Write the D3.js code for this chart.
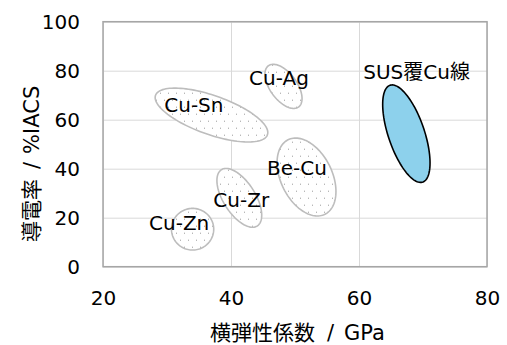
<!DOCTYPE html>
<html>
<head>
<meta charset="utf-8">
<script src="https://cdn.jsdelivr.net/npm/d3@7"></script>
<style>
  body { margin: 0; background: #fff; }
  text { font-family: "DejaVu Sans", "Noto Sans CJK JP", sans-serif; fill: #000; }
</style>
</head>
<body>
<svg id="chart"></svg>
<script>
// alloy regions: centre, half extents and tilt (correlation) in data units
const alloys = ["Cu-Sn", "Cu-Ag", "Cu-Zn", "Cu-Zr", "Be-Cu", "SUS覆Cu線"];
const modulusCenter = [36.95, 48.2, 34.0, 41.3, 51.8, 67.4];   // GPa
const conductCenter = [61.9, 73.6, 15.3, 28.1, 36.6, 54.3];    // %IACS
const modulusHalf = [8.8, 2.9, 3.3, 3.5, 4.6, 3.7];
const conductHalf = [11.0, 9.0, 8.5, 12.0, 15.9, 19.9];
const spreadCorr = [-0.65, -0.55, 0.0, -0.59, -0.37, -0.6];
const labelModulus = [34.2, 47.5, 31.9, 41.6, 50.3, 69.0];
const labelConduct = [66.0, 76.9, 17.7, 27.2, 40.2, 79.6];

const xTicks = [20, 40, 60, 80];
const yTicks = [0, 20, 40, 60, 80, 100];

var width = 507, height = 345;
var padding = {left: 103, right: 20, top: 21.7, bottom: 78.3};
var chartArea = {
  width: width - padding.left - padding.right,
  height: height - padding.top - padding.bottom
};

var svg = d3.select('#chart').attr('width', width).attr('height', height);

// sparse dot fill used by the alloy regions
var defs = svg.append('defs');
var pat = defs.append('pattern').attr('id', 'dots')
  .attr('patternUnits', 'userSpaceOnUse').attr('width', 8).attr('height', 14);
pat.append('rect').attr('width', 8).attr('height', 14).attr('fill', '#fff');
pat.append('rect').attr('x', 1).attr('y', 1).attr('width', 1).attr('height', 1).attr('fill', '#9a9a9a');
pat.append('rect').attr('x', 5).attr('y', 8).attr('width', 1).attr('height', 1).attr('fill', '#9a9a9a');

var xScale = d3.scaleLinear().domain([20, 80]).range([0, chartArea.width]);
var yScale = d3.scaleLinear().domain([0, 100]).range([chartArea.height, 0]);

var g = svg.append('g').attr('transform', 'translate(' + padding.left + ',' + padding.top + ')');

// grid
g.append('g').attr('class', 'grid')
  .call(d3.axisLeft(yScale).tickValues(yTicks).tickSize(-chartArea.width).tickFormat(''))
  .call(s => s.select('.domain').remove())
  .selectAll('line').attr('stroke', '#d9d9d9').attr('stroke-width', 1);
g.append('g').attr('class', 'grid')
  .attr('transform', 'translate(0,' + chartArea.height + ')')
  .call(d3.axisBottom(xScale).tickValues(xTicks).tickSize(-chartArea.height).tickFormat(''))
  .call(s => s.select('.domain').remove())
  .selectAll('line').attr('stroke', '#d9d9d9').attr('stroke-width', 1);

// plot border
g.append('rect').attr('width', chartArea.width).attr('height', chartArea.height)
  .attr('fill', 'none').attr('stroke', '#a6a6a6').attr('stroke-width', 1.5);

// tick labels
var xAxis = g.append('g').attr('transform', 'translate(0,' + chartArea.height + ')')
  .call(d3.axisBottom(xScale).tickValues(xTicks).tickSize(0).tickPadding(24));
var yAxis = g.append('g')
  .call(d3.axisLeft(yScale).tickValues(yTicks).tickSize(0).tickPadding(23));
[xAxis, yAxis].forEach(function(a) {
  a.select('.domain').remove();
  a.selectAll('text').style('font-size', '20px')
    .style('font-family', '"DejaVu Sans", sans-serif').attr('fill', '#000');
});

// regions
var ellipseLine = d3.line().curve(d3.curveLinearClosed);
var steps = d3.range(0, 2 * Math.PI, Math.PI / 60);
alloys.forEach(function(name, i) {
  var r = spreadCorr[i];
  var pts = steps.map(function(t) {
    var gx = modulusCenter[i] + modulusHalf[i] * Math.cos(t);
    var gy = conductCenter[i] + conductHalf[i] * (r * Math.cos(t) + Math.sqrt(1 - r * r) * Math.sin(t));
    return [xScale(gx), yScale(gy)];
  });
  var isSus = i === alloys.length - 1;
  g.append('path').attr('d', ellipseLine(pts))
    .attr('fill', isSus ? '#8dd1ec' : 'url(#dots)')
    .attr('stroke', isSus ? '#000' : '#bdbdbd')
    .attr('stroke-width', 1.6);
});

// labels
alloys.forEach(function(name, i) {
  g.append('text')
    .attr('x', xScale(labelModulus[i]))
    .attr('y', yScale(labelConduct[i]))
    .attr('text-anchor', 'middle').attr('dy', '0.35em')
    .style('font-size', '20px')
    .text(name);
});

// axis titles (wide gaps around the slash, like the original)
var xTitle = svg.append('text')
  .attr('x', 210).attr('y', 333)
  .attr('dy', '0.35em')
  .style('font-size', '21px');
xTitle.append('tspan').text('横弾性係数');
xTitle.append('tspan').attr('dx', 12).text('/');
xTitle.append('tspan').attr('dx', 10).text('GPa');

var yTitle = svg.append('text')
  .attr('transform', 'translate(32,242) rotate(-90)')
  .attr('dy', '0.35em')
  .style('font-size', '21px');
yTitle.append('tspan').text('導電率');
yTitle.append('tspan').attr('dx', 10).text('/');
yTitle.append('tspan').attr('dx', 8).text('%IACS');
</script>
</body>
</html>
